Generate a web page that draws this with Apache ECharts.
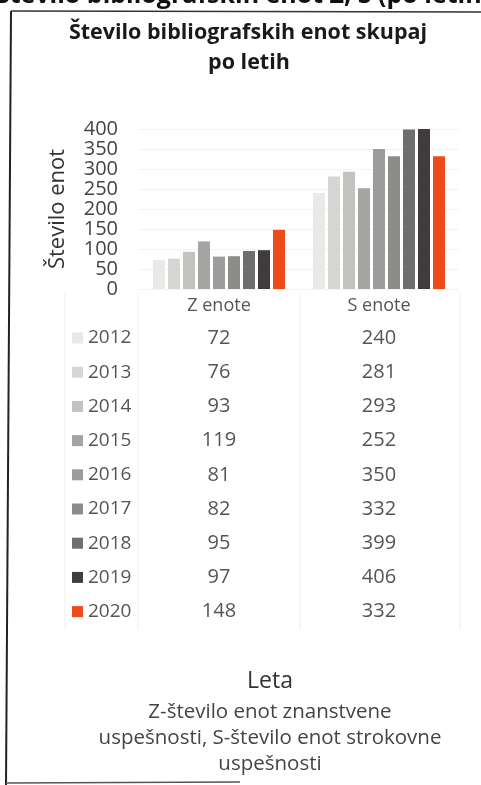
<!DOCTYPE html>
<html>
<head>
<meta charset="utf-8">
<script src="https://cdn.jsdelivr.net/npm/echarts@6/dist/echarts.min.js"></script>
<style>
  html, body { margin: 0; padding: 0; background: #fff; }
  #chart { width: 481px; height: 785px; }
</style>
</head>
<body>
<div id="chart"></div>
<script>
const categories = ['Z enote', 'S enote'];
const years = ['2012', '2013', '2014', '2015', '2016', '2017', '2018', '2019', '2020'];
const zValues = [72, 76, 93, 119, 81, 82, 95, 97, 148];
const sValues = [240, 281, 293, 252, 350, 332, 399, 406, 332];
const yearColors = ['#e9e9e7', '#d6d6d4', '#c2c2bf', '#a4a4a2', '#9c9c9a', '#8c8d88', '#6e6e6e', '#403c3e', '#ee4a1c'];
const yTicks = { min: 0, max: 400, interval: 50 };

const FONT = '"Open Sans", sans-serif';
const chart = echarts.init(document.getElementById('chart'));

const series = years.map((y, i) => ({
  name: y,
  type: 'bar',
  data: [zValues[i], sValues[i]],
  barWidth: 12,
  barGap: '25%',
  itemStyle: { color: yearColors[i] }
}));

const option = {
  animation: false,
  backgroundColor: '#fff',
  textStyle: { fontFamily: FONT },
  grid: { left: 139, right: 22, top: 129, height: 160, containLabel: false },
  xAxis: {
    type: 'category',
    data: categories,
    axisLine: { show: false },
    axisTick: { show: false },
    axisLabel: { color: '#555', fontSize: 18, margin: 8, fontFamily: FONT }
  },
  yAxis: {
    type: 'value',
    min: yTicks.min,
    max: yTicks.max,
    interval: yTicks.interval,
    name: 'Število enot',
    nameLocation: 'middle',
    nameGap: 70,
    nameTextStyle: { color: '#333', fontSize: 22, fontFamily: FONT },
    axisLine: { show: false },
    axisTick: { show: false },
    axisLabel: { color: '#444', fontSize: 20, margin: 21, fontFamily: FONT },
    splitLine: { lineStyle: { color: '#f3f3f3' } }
  },
  legend: {
    orient: 'vertical',
    left: 72,
    top: 328,
    padding: 0,
    icon: 'rect',
    itemWidth: 11,
    itemHeight: 11,
    itemGap: 14.2,
    textStyle: { color: '#555', fontSize: 19, lineHeight: 20, fontFamily: FONT },
    data: years
  },
  series: series
};
chart.setOption(option);

// table values + text placed under the category centres
const zx = chart.convertToPixel({ xAxisIndex: 0 }, categories[0]);
const sx = chart.convertToPixel({ xAxisIndex: 0 }, categories[1]);
const rowTop = 338, rowStep = 34.2;
const graphic = [];

// scanned frame
graphic.push({ type: 'line', shape: { x1: 11, y1: 11, x2: 6, y2: 785 }, style: { stroke: '#222', lineWidth: 2 } });
graphic.push({ type: 'line', shape: { x1: 11, y1: 11, x2: 481, y2: 12 }, style: { stroke: '#333', lineWidth: 1.5 } });
graphic.push({ type: 'line', shape: { x1: 6, y1: 783, x2: 240, y2: 782 }, style: { stroke: '#555', lineWidth: 1.5 } });

// faint table lines
[65, 138, 300, 460].forEach(x => {
  graphic.push({ type: 'line', shape: { x1: x, y1: 292, x2: x, y2: 630 }, style: { stroke: '#efefef', lineWidth: 1 } });
});

years.forEach((y, i) => {
  const cy = rowTop + i * rowStep;
  graphic.push({ type: 'text', x: zx, y: cy, style: { text: String(zValues[i]), fill: '#555', font: '20px ' + FONT, align: 'center', verticalAlign: 'middle' } });
  graphic.push({ type: 'text', x: sx, y: cy, style: { text: String(sValues[i]), fill: '#555', font: '20px ' + FONT, align: 'center', verticalAlign: 'middle' } });
});

// headers
graphic.push({ type: 'text', x: -4, y: 8, style: { text: 'Število bibliografskih enot Z, S (po letih)', fill: '#111', font: 'bold 25px ' + FONT, align: 'left', verticalAlign: 'bottom' } });
graphic.push({ type: 'text', x: 248, y: 33, style: { text: 'Število bibliografskih enot skupaj', fill: '#1a1a1a', font: 'bold 21.5px ' + FONT, align: 'center', verticalAlign: 'middle' } });
graphic.push({ type: 'text', x: 249, y: 63, style: { text: 'po letih', fill: '#1a1a1a', font: 'bold 21.5px ' + FONT, align: 'center', verticalAlign: 'middle' } });

// bottom captions
graphic.push({ type: 'text', x: 270, y: 681, style: { text: 'Leta', fill: '#333', font: '23px ' + FONT, align: 'center', verticalAlign: 'middle' } });
[['Z-število enot znanstvene', 712], ['uspešnosti, S-število enot strokovne', 738], ['uspešnosti', 764]].forEach(([t, y]) => {
  graphic.push({ type: 'text', x: 270, y: y, style: { text: t, fill: '#444', font: '20.5px ' + FONT, align: 'center', verticalAlign: 'middle' } });
});

chart.setOption({ graphic: graphic });
</script>
</body>
</html>
